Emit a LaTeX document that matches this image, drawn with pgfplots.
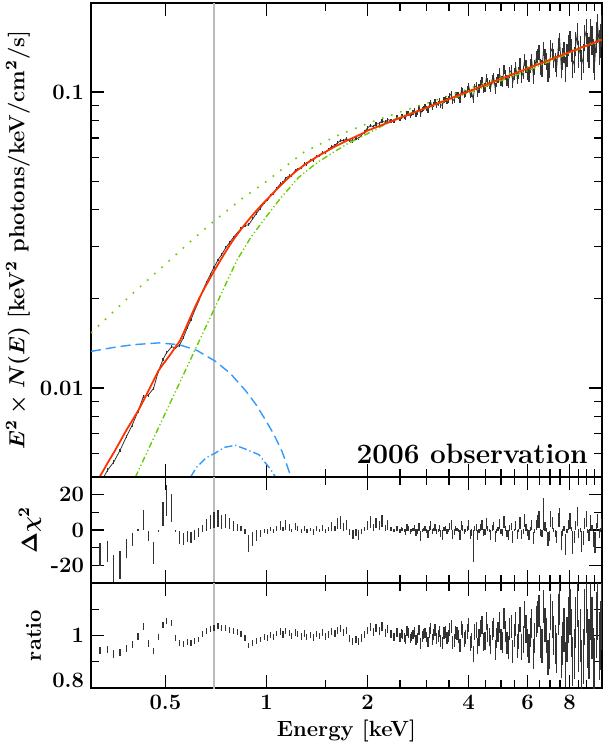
\documentclass[border=0pt]{standalone}
\usepackage{pgfplots}
\pgfplotsset{compat=1.18}
\usepackage{pgfplotstable}

\definecolor{modred}{HTML}{FF3300}
\definecolor{compgreen}{HTML}{66CC00}
\definecolor{compblue}{HTML}{3399FF}
\definecolor{datagray}{HTML}{333333}
\definecolor{markgray}{HTML}{BBBBBB}

% E [keV], model, data/model ratio (+err), delta chi^2 (+err)
\pgfplotstableread{
E m r re c ce
0.319 0.00502 0.943 0.014 -14.0 6.5
0.336 0.00557 0.946 0.014 -12.0 6.0
0.351 0.00605 0.930 0.014 -22.0 8.0
0.366 0.00658 0.934 0.013 -20.0 8.0
0.383 0.00722 0.950 0.013 -10.5 5.5
0.398 0.00775 0.966 0.012 -5.3 3.6
0.414 0.00835 0.996 0.012 -0.2 0.6
0.430 0.00906 1.034 0.012 5.8 5.8
0.444 0.00974 0.970 0.012 -3.6 2.9
0.461 0.01061 0.940 0.012 -13.0 6.0
0.476 0.01141 0.995 0.012 -0.4 0.6
0.492 0.01203 1.040 0.012 9.0 7.0
0.504 0.01247 1.054 0.012 16.5 8.7
0.522 0.01317 1.047 0.012 12.5 8.0
0.536 0.01378 0.990 0.011 -0.3 0.5
0.551 0.01436 0.972 0.011 -4.3 3.5
0.566 0.01532 0.968 0.011 -5.0 3.5
0.581 0.01640 0.975 0.011 -3.8 3.2
0.596 0.01752 0.972 0.011 -4.2 3.3
0.612 0.01872 0.980 0.011 -2.8 3.0
0.629 0.01999 0.985 0.011 -1.5 2.5
0.645 0.02113 1.005 0.011 1.0 2.0
0.663 0.02239 1.018 0.011 3.0 3.5
0.680 0.02355 1.025 0.011 4.5 4.0
0.698 0.02482 1.030 0.011 5.5 4.5
0.717 0.02615 1.035 0.011 6.5 4.8
0.736 0.02748 1.028 0.011 4.5 4.0
0.756 0.02888 1.030 0.011 5.0 4.0
0.776 0.03027 1.022 0.011 3.5 3.2
0.797 0.03167 1.018 0.011 2.5 2.8
0.818 0.03302 1.012 0.011 1.5 2.0
0.840 0.03436 1.005 0.011 0.8 1.5
0.863 0.03573 0.990 0.011 -1.0 1.5
0.886 0.03707 0.962 0.011 -7.5 4.8
0.910 0.03843 0.970 0.011 -5.0 4.0
0.934 0.03975 0.980 0.011 -3.0 3.0
0.959 0.04109 0.985 0.011 -2.0 2.2
0.985 0.04243 0.995 0.011 -0.5 1.2
1.01 0.0437 0.990 0.011 -1.0 1.5
1.03 0.0447 1.002 0.011 0.5 1.0
1.05 0.0457 0.995 0.011 -0.5 1.0
1.07 0.0467 1.008 0.011 1.0 1.5
1.10 0.0482 1.015 0.012 2.5 2.5
1.12 0.0492 1.004 0.012 0.6 1.0
1.14 0.0502 1.018 0.012 3.0 2.8
1.17 0.0516 1.010 0.012 1.5 2.0
1.19 0.0525 0.998 0.012 -0.2 0.8
1.22 0.0538 1.012 0.012 2.0 2.2
1.24 0.0546 1.006 0.012 0.8 1.3
1.27 0.0557 0.996 0.012 -0.5 1.0
1.30 0.0568 1.008 0.012 1.0 1.5
1.32 0.0575 0.994 0.012 -0.7 1.2
1.35 0.0585 1.002 0.012 0.3 0.8
1.38 0.0594 0.992 0.012 -1.2 1.6
1.41 0.0603 1.006 0.013 0.8 1.3
1.44 0.0612 0.998 0.013 -0.2 0.8
1.47 0.0620 1.010 0.013 1.2 1.8
1.50 0.0628 0.996 0.013 -0.5 1.0
1.53 0.0636 1.004 0.013 0.5 1.0
1.56 0.0644 1.014 0.013 2.0 2.3
1.60 0.0654 1.008 0.013 1.0 1.5
1.63 0.0661 1.020 0.013 3.5 3.2
1.66 0.0668 1.026 0.013 4.0 3.7
1.70 0.0677 1.012 0.013 1.8 2.2
1.73 0.0684 1.018 0.013 2.8 2.7
1.77 0.0692 0.990 0.013 -1.0 1.6
1.81 0.0700 0.978 0.014 -2.5 2.5
1.85 0.0708 0.985 0.014 -1.5 2.0
1.88 0.0714 0.976 0.014 -2.8 2.7
1.92 0.0722 0.990 0.014 -0.8 1.5
1.96 0.0730 1.005 0.014 0.5 1.2
2.00 0.0741 1.020 0.014 2.5 2.4
2.04 0.0747 1.032 0.015 4.5 3.2
2.08 0.0754 1.012 0.015 1.5 2.0
2.12 0.0760 1.028 0.015 4.0 3.0
2.17 0.0768 1.018 0.015 2.5 2.5
2.21 0.0774 1.035 0.016 5.0 3.4
2.26 0.0782 1.010 0.016 1.2 1.8
2.30 0.0788 1.025 0.016 3.0 2.8
2.35 0.0795 1.005 0.016 0.5 1.2
2.40 0.0803 0.995 0.016 -0.4 1.0
2.45 0.0810 1.012 0.017 1.0 1.5
2.50 0.0817 0.992 0.017 -0.6 1.1
2.525 0.0821 1.008 0.017 0.6 1.1
2.55 0.0825 1.004 0.017 0.3 0.9
2.575 0.0828 0.994 0.017 -0.4 1.0
2.60 0.0832 0.985 0.018 -1.2 1.6
2.625 0.0835 1.018 0.018 1.5 1.9
2.65 0.0839 1.010 0.018 0.8 1.3
2.68 0.0843 0.988 0.018 -1.0 1.4
2.71 0.0847 0.996 0.018 -0.3 0.8
2.735 0.0850 1.004 0.018 0.3 0.9
2.76 0.0854 1.015 0.019 1.2 1.6
2.79 0.0858 0.982 0.019 -1.5 1.8
2.82 0.0862 0.990 0.019 -0.8 1.3
2.85 0.0866 1.022 0.019 1.8 2.1
2.88 0.0870 0.970 0.020 -3.5 3.0
2.91 0.0874 0.996 0.020 -0.3 0.9
2.94 0.0878 1.005 0.020 0.4 1.0
2.97 0.0882 1.010 0.020 0.8 1.3
3.00 0.0886 0.994 0.020 -0.5 1.0
3.03 0.0889 0.975 0.020 -2.2 2.4
3.06 0.0893 1.012 0.021 0.8 1.3
3.09 0.0897 1.028 0.021 2.4 2.5
3.12 0.0901 0.984 0.021 -1.0 1.5
3.15 0.0905 1.002 0.021 0.2 0.8
3.18 0.0909 1.020 0.022 1.5 2.0
3.215 0.0913 0.988 0.022 -0.9 1.4
3.25 0.0917 0.998 0.022 -0.2 0.8
3.28 0.0921 1.016 0.022 1.2 1.7
3.31 0.0925 0.978 0.023 -2.0 2.2
3.345 0.0929 0.970 0.023 -2.8 2.7
3.38 0.0933 1.008 0.023 0.5 1.0
3.415 0.0937 1.012 0.023 0.9 1.4
3.45 0.0942 0.990 0.024 -0.8 1.3
3.485 0.0946 0.998 0.024 -0.2 0.8
3.52 0.0950 1.024 0.024 2.0 2.2
3.555 0.0954 1.035 0.024 2.8 2.7
3.59 0.0958 0.975 0.025 -2.5 2.5
3.625 0.0962 0.982 0.025 -1.3 1.7
3.66 0.0967 1.010 0.025 0.8 1.3
3.70 0.0971 1.006 0.025 0.4 1.0
3.74 0.0976 0.996 0.026 -0.3 0.9
3.775 0.0980 0.962 0.026 -3.0 2.8
3.81 0.0984 1.030 0.027 2.5 2.6
3.85 0.0988 1.018 0.027 1.3 1.8
3.89 0.0993 0.985 0.027 -1.0 1.5
3.93 0.0997 0.994 0.027 -0.4 1.0
3.97 0.1002 1.015 0.028 1.0 1.5
4.01 0.1006 1.040 0.028 3.0 2.8
4.05 0.1011 0.970 0.029 -2.5 2.6
4.09 0.1015 0.980 0.029 -1.4 1.8
4.13 0.1019 0.930 0.030 -9.0 9.0
4.175 0.1024 1.012 0.030 0.8 1.3
4.22 0.1029 1.020 0.031 1.5 2.0
4.26 0.1033 0.960 0.031 -2.8 2.8
4.30 0.1038 0.992 0.032 -0.5 1.0
4.345 0.1042 1.026 0.032 1.6 2.0
4.39 0.1047 1.040 0.033 3.0 2.8
4.435 0.1052 0.975 0.033 -1.6 1.9
4.48 0.1057 0.980 0.034 -1.2 1.6
4.525 0.1061 1.055 0.034 3.8 3.2
4.57 0.1066 1.010 0.035 0.8 1.3
4.615 0.1070 0.995 0.035 -0.3 0.9
4.66 0.1075 0.965 0.036 -2.8 2.7
4.71 0.1080 1.020 0.036 1.2 1.7
4.76 0.1085 1.030 0.037 2.2 2.3
4.805 0.1089 0.945 0.037 -3.8 3.2
4.85 0.1094 0.990 0.038 -0.6 1.1
4.90 0.1099 1.012 0.038 0.6 1.2
4.95 0.1104 1.050 0.039 3.5 3.0
5.00 0.1109 0.985 0.039 -0.8 1.3
5.05 0.1114 0.975 0.040 -1.5 1.8
5.105 0.1119 1.065 0.040 4.5 3.5
5.16 0.1124 1.015 0.041 0.8 1.3
5.21 0.1129 0.970 0.042 -1.8 2.0
5.26 0.1134 0.955 0.043 -3.0 2.8
5.315 0.1139 1.025 0.043 1.2 1.7
5.37 0.1144 1.035 0.044 2.0 2.2
5.425 0.1149 0.940 0.044 -4.0 3.3
5.48 0.1154 1.000 0.045 0.0 0.8
5.535 0.1160 1.045 0.046 2.5 2.5
5.59 0.1165 0.960 0.047 -2.5 2.5
5.645 0.1170 0.995 0.047 -0.2 0.8
5.70 0.1175 1.060 0.048 4.0 3.2
5.76 0.1180 0.955 0.049 -2.5 2.5
5.82 0.1185 0.985 0.050 -0.8 1.3
5.88 0.1191 1.080 0.051 5.5 3.8
5.94 0.1196 1.025 0.052 1.5 2.0
6.00 0.1201 0.970 0.053 -1.5 1.8
6.06 0.1207 0.950 0.054 -2.8 2.7
6.12 0.1212 1.010 0.055 0.5 1.1
6.18 0.1217 1.045 0.056 3.0 2.8
6.245 0.1223 0.930 0.057 -4.5 3.6
6.31 0.1228 0.990 0.058 -0.5 1.0
6.37 0.1234 1.055 0.059 3.0 2.8
6.43 0.1239 1.070 0.060 5.0 3.6
6.495 0.1245 1.095 0.061 6.0 5.0
6.56 0.1250 0.975 0.062 -1.5 1.8
6.63 0.1256 0.960 0.063 -2.0 2.2
6.70 0.1261 1.110 0.064 9.0 9.0
6.765 0.1267 1.040 0.065 2.0 2.3
6.83 0.1272 1.000 0.066 0.0 1.0
6.90 0.1278 0.915 0.067 -5.0 4.0
6.97 0.1283 0.940 0.068 -3.5 3.0
7.04 0.1289 1.090 0.070 6.0 4.5
7.11 0.1295 1.060 0.071 4.0 3.2
7.185 0.1301 1.000 0.073 0.0 1.0
7.26 0.1307 0.965 0.074 -2.0 2.2
7.335 0.1313 0.935 0.076 -4.0 3.3
7.41 0.1318 1.080 0.077 5.5 4.0
7.485 0.1324 1.120 0.079 7.0 5.5
7.56 0.1330 0.920 0.080 -6.0 5.5
7.635 0.1336 0.970 0.082 -1.5 1.8
7.71 0.1342 1.020 0.083 1.0 1.5
7.79 0.1348 0.890 0.085 -8.0 6.0
7.87 0.1354 0.985 0.086 -0.5 1.2
7.95 0.1360 1.060 0.088 3.0 2.8
8.03 0.1366 1.090 0.089 5.0 4.5
8.11 0.1372 1.010 0.091 0.5 1.2
8.19 0.1378 0.900 0.093 -7.0 6.5
8.275 0.1384 0.930 0.095 -4.0 3.5
8.36 0.1390 1.050 0.096 2.5 2.6
8.445 0.1397 1.130 0.098 7.5 5.5
8.53 0.1403 0.960 0.100 -2.0 2.3
8.615 0.1409 1.000 0.102 0.0 1.0
8.70 0.1415 0.880 0.104 -6.5 6.0
8.79 0.1422 0.920 0.106 -4.5 4.0
8.88 0.1428 1.070 0.108 3.5 3.2
8.97 0.1434 1.120 0.110 6.0 4.5
9.06 0.1440 0.990 0.112 -0.5 1.0
9.15 0.1447 0.950 0.114 -3.0 3.0
9.24 0.1453 1.100 0.116 4.5 3.8
9.335 0.1460 1.030 0.118 1.0 1.6
9.43 0.1466 0.910 0.120 -5.0 4.5
9.525 0.1473 0.870 0.122 -7.0 6.0
9.62 0.1479 1.040 0.125 1.5 2.2
9.72 0.1486 1.110 0.128 5.0 4.0
9.82 0.1492 0.960 0.130 -2.0 2.4
9.90 0.1498 1.000 0.132 0.0 1.2
9.98 0.1503 1.080 0.135 3.0 3.0
}\spec

\pgfplotstableread{
E f
0.30 0.01534
0.35 0.0181
0.40 0.0209
0.50 0.0262
0.60 0.0316
0.705 0.0370
0.85 0.0438
1.00 0.0499
1.29 0.0625
1.605 0.0708
2.016 0.0786
2.53 0.0860
3.11 0.0928
4.00 0.1025
5.00 0.1125
6.50 0.1258
8.00 0.1372
10.0 0.1510
}\contdot

\pgfplotstableread{
E f
0.407 0.0050
0.45 0.00638
0.50 0.00823
0.55 0.01036
0.615 0.01358
0.66 0.0161
0.705 0.01887
0.76 0.0227
0.818 0.0271
0.90 0.0324
1.0 0.0380
1.1 0.0437
1.248 0.0515
1.4 0.0572
1.568 0.0622
1.75 0.0670
1.97 0.0717
2.48 0.0822
3.0 0.0883
4.0 0.0995
6.0 0.1180
8.0 0.1355
10.0 0.1500
}\powlaw

\pgfplotstableread{
E f
0.30 0.01329
0.35 0.0137
0.40 0.0140
0.478 0.0142
0.55 0.0140
0.62 0.0134
0.705 0.0123
0.78 0.0112
0.827 0.0104
0.866 0.0098
0.93 0.0088
0.993 0.0078
1.05 0.0070
1.113 0.0061
1.15 0.0055
1.19 0.0049
1.22 0.0044
}\bbone

\pgfplotstableread{
E f
0.57 0.0045
0.594 0.0050
0.62 0.0054
0.66 0.0058
0.705 0.00603
0.75 0.0063
0.809 0.0064
0.87 0.0062
0.95 0.00595
0.993 0.00558
1.03 0.0053
1.064 0.0050
1.10 0.0046
}\bbtwo

\pgfplotsset{
  every axis/.append style={
    scale only axis, width=255.5pt,
    xmin=0.3, xmax=10,
    major tick length=6.5pt, minor tick length=4pt,
    tick style={black, line width=0.6pt},
    axis line style={line width=0.7pt},
    tick label style={font=\fontsize{11}{13}\selectfont\bfseries},
    label style={font=\fontsize{11}{13}\selectfont\bfseries\boldmath},
  },
}

\begin{document}
\begin{tikzpicture}
\begin{axis}[name=top, height=237pt,
  xmode=log, ymode=log, ymin=0.005, ymax=0.2,
  xtick={0.5,1,2,4,6,8},
  minor xtick={1.5,2.5,3,3.5,4.5,5,5.5,6.5,7,7.5,8.5,9,9.5},
  xticklabels={},
  ytick={0.01,0.1}, yticklabels={0.01,0.1},
  minor ytick={0.006,0.007,0.008,0.009,0.02,0.03,0.04,0.05,0.06,0.07,0.08,0.09},
  ylabel={$E^2\times N(E)$ [keV$^2$ photons/keV/cm$^2$/s]},
  ylabel style={at={(axis description cs:-0.1429,0.5)}, anchor=center}]
\addplot[markgray, line width=1pt] coordinates {(0.7,0.001) (0.7,1)};
\addplot[datagray, line width=0.4pt,
  error bars/.cd, y dir=both, y explicit, error mark=none,
  error bar style={line width=0.6pt, datagray}]
  table[x=E, y expr=\thisrow{m}*\thisrow{r}, y error expr=\thisrow{m}*\thisrow{re}] {\spec};
\addplot[compgreen, line width=0.8pt, dash pattern=on 0.8pt off 4pt] table[x=E, y=f] {\contdot};
\addplot[compgreen, line width=0.7pt, dash pattern=on 3pt off 1.3pt on 0.6pt off 1.3pt on 0.6pt off 1.3pt] table[x=E, y=f] {\powlaw};
\addplot[compblue, line width=0.7pt, dash pattern=on 5pt off 2.5pt] table[x=E, y=f] {\bbone};
\addplot[compblue, line width=0.7pt, dash pattern=on 4pt off 1.5pt on 0.6pt off 1.5pt] table[x=E, y=f] {\bbtwo};
\addplot[modred, line width=0.9pt] table[x=E, y=m] {\spec};
\node[anchor=base east, inner sep=0pt, font=\fontsize{14}{16}\selectfont\bfseries] at (rel axis cs:0.9726,0.0295) {2006 observation};
\end{axis}

\begin{axis}[name=mid, at={(top.south west)}, anchor=north west, height=53pt,
  xmode=log,
  xtick={0.5,1,2,4,6,8},
  minor xtick={1.5,2.5,3,3.5,4.5,5,5.5,6.5,7,7.5,8.5,9,9.5},
  xticklabels={},
  ymin=-30, ymax=30, ytick={-20,0,20}, yticklabels={-20,0,20}, minor ytick={-10,10},
  ylabel={$\Delta\chi^2$},
  ylabel style={at={(axis description cs:-0.1194,0.5)}, anchor=center}]
\addplot[markgray, line width=1pt] coordinates {(0.7,-40) (0.7,40)};
\addplot[draw=none, mark=none,
  error bars/.cd, y dir=both, y explicit, error mark=none,
  error bar style={draw=datagray, line width=0.6pt}]
  table[x=E, y=c, y error=ce] {\spec};
\end{axis}

\begin{axis}[name=bot, at={(mid.south west)}, anchor=north west, height=52.5pt,
  xmode=log,
  xtick={0.5,1,2,4,6,8},
  minor xtick={1.5,2.5,3,3.5,4.5,5,5.5,6.5,7,7.5,8.5,9,9.5},
  xticklabels={0.5,1,2,4,6,8},
  ymin=0.8, ymax=1.2, ytick={1}, yticklabels={1}, minor ytick={0.9,1.1},
  extra y ticks={0.8}, extra y tick labels={0.8},
  extra y tick style={tick label style={yshift=4pt}},
  xlabel={Energy [keV]},
  xlabel style={at={(axis description cs:0.5,0)}, yshift=-21.5pt, anchor=center},
  ylabel={ratio},
  ylabel style={at={(axis description cs:-0.1125,0.5)}, anchor=center}]
\addplot[markgray, line width=1pt] coordinates {(0.7,0.5) (0.7,1.5)};
\addplot[draw=none, mark=none,
  error bars/.cd, y dir=both, y explicit, error mark=none,
  error bar style={draw=datagray, line width=0.6pt}]
  table[x=E, y=r, y error=re] {\spec};
\end{axis}

\pgfresetboundingbox
\path ([shift={(-45.5pt,1.5pt)}]top.north west) rectangle ([shift={(0.5pt,-28.5pt)}]bot.south east);
\end{tikzpicture}
\end{document}
